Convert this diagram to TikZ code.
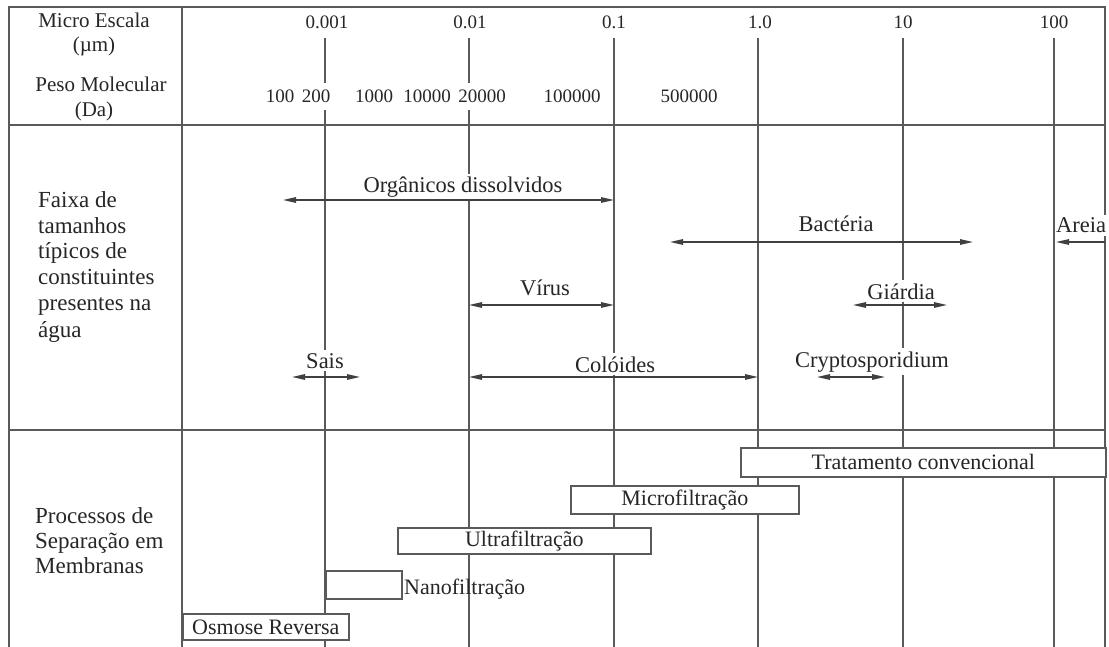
\documentclass[tikz,border=0pt]{standalone}
\usepackage{fontspec}
\setmainfont{Liberation Serif}
\usetikzlibrary{arrows.meta}
\definecolor{rule}{HTML}{5A5A5A}
\definecolor{ink}{HTML}{262626}
\definecolor{shaft}{HTML}{404040}

\begin{document}
\begin{tikzpicture}[x=1pt,y=-1pt,
  grid/.style={draw=rule, line width=1.7pt},
  hdr/.style={font=\fontsize{21}{25}\selectfont, text=ink, inner sep=0pt, anchor=base},
  dec/.style={font=\fontsize{19}{22}\selectfont, text=ink, inner sep=0pt, anchor=base},
  mw/.style={font=\fontsize{19}{22}\selectfont, text=ink, fill=white, inner xsep=2pt, inner ysep=7pt, anchor=base},
  lab/.style={font=\fontsize{22.5}{26}\selectfont, text=ink, fill=white, inner xsep=2pt, inner ysep=3pt, anchor=base},
  side/.style={font=\fontsize{23}{26}\selectfont, text=ink, align=left, inner sep=0pt, anchor=base west},
  sizespan/.style={draw=shaft, line width=1.4pt, {Triangle[length=13pt,width=5.5pt]}-{Triangle[length=13pt,width=5.5pt]}},
  proc/.style={draw=rule, line width=1.7pt, fill=white, font=\fontsize{22}{26}\selectfont, text=ink, inner sep=0pt, anchor=north west}
]
\useasboundingbox (0,0) rectangle (1109,647);
\fill[white] (0,0) rectangle (1109,647);
\begin{scope}
\clip (0,0) rectangle (1109,647);

% frame corners
\coordinate (tl) at (9,7);
\coordinate (tr) at (1105,7);
\coordinate (bl) at (9,652);
\coordinate (br) at (1105,652);

% decade labels of the size scale
\node[dec] (d1) at (327,29) {0.001};
\node[dec] (d2) at (470,29) {0.01};
\node[dec] (d3) at (614,29) {0.1};
\node[dec] (d4) at (760,29) {1.0};
\node[dec] (d5) at (903,29) {10};
\node[dec] (d6) at (1054,29) {100};

% frame, column separator and row separators
\draw[grid] (bl) -- (tl) -- (tr) -- (br);
\draw[grid] (182,7) -- (182,652);
\draw[grid] (9,125) -- (1105,125);
\draw[grid] (9,430) -- (1105,430);

% vertical scale lines
\foreach \x in {325,469,614,758,903,1054}
  \draw[grid] (\x,38) -- (\x,652);

% row headings
\node[hdr] (h1) at (94,28) {Micro Escala};
\node[hdr] (h2) at (94,52) {(µm)};
\node[hdr] (h3) at (101,92) {Peso Molecular};
\node[hdr] (h4) at (94,117) {(Da)};

% molecular weight scale
\node[mw] (m1) at (280,103) {100};
\node[mw] (m2) at (316,103) {200};
\node[mw] (m3) at (374,103) {1000};
\node[mw] (m4) at (427,103) {10000};
\node[mw] (m5) at (482,103) {20000};
\node[mw] (m6) at (572,103) {100000};
\node[mw] (m7) at (689,103) {500000};

% constituent labels
\node[lab] (org) at (463,193) {Orgânicos dissolvidos};
\node[lab] (bac) at (836,232) {Bactéria};
\node[lab, anchor=base west, inner xsep=0pt] (are) at (1056,233) {Areia};
\node[lab] (vir) at (545,295) {Vírus};
\node[lab] (gia) at (901,299) {Giárdia};
\node[lab] (sai) at (325,368) {Sais};
\node[lab] (col) at (615,372) {Colóides};
\node[lab] (cry) at (872,367) {Cryptosporidium};

% size ranges
\coordinate (orgA) at (283,200); \coordinate (orgB) at (614,200);
\coordinate (bacA) at (670,242); \coordinate (bacB) at (973,242);
\coordinate (areA) at (1056,242); \coordinate (areB) at (1105,242);
\coordinate (virA) at (469,305); \coordinate (virB) at (614,305);
\coordinate (giaA) at (853,305); \coordinate (giaB) at (947,305);
\coordinate (saiA) at (292,377); \coordinate (saiB) at (360,377);
\coordinate (colA) at (469,377); \coordinate (colB) at (758,377);
\coordinate (cryA) at (817,377); \coordinate (cryB) at (885,377);
\draw[sizespan] (orgA) -- (orgB);
\draw[sizespan] (bacA) -- (bacB);
\draw[draw=shaft, line width=1.4pt, {Triangle[length=13pt,width=5.5pt]}-] (areA) -- (areB);
\draw[sizespan] (virA) -- (virB);
\draw[sizespan] (giaA) -- (giaB);
\draw[sizespan] (saiA) -- (saiB);
\draw[sizespan] (colA) -- (colB);
\draw[sizespan] (cryA) -- (cryB);

% membrane separation processes
\node[proc, minimum width=365pt, minimum height=29pt] (tc) at (740,447) {Tratamento convencional};
\node[proc, minimum width=228pt, minimum height=28pt] (mf) at (570,485) {Microfiltração};
\node[proc, minimum width=253pt, minimum height=26pt] (uf) at (397,527) {Ultrafiltração};
\node[proc, minimum width=76pt, minimum height=28pt] (nf) at (325,570) {};
\node[font=\fontsize{22}{26}\selectfont, text=ink, inner sep=0pt, anchor=base west] (nfl) at (404,594) {Nanofiltração};
\node[proc, minimum width=166pt, minimum height=26pt] (or) at (182,613) {Osmose Reversa};

% section headings (anchored on the baseline of their last line)
\node[side] (s1) at (38,337) {Faixa de\\tamanhos\\típicos de\\constituintes\\presentes na\\água};
\node[side, font=\fontsize{23}{25}\selectfont] (s2) at (35,573) {Processos de\\Separação em\\Membranas};
\end{scope}
\end{tikzpicture}
\end{document}
